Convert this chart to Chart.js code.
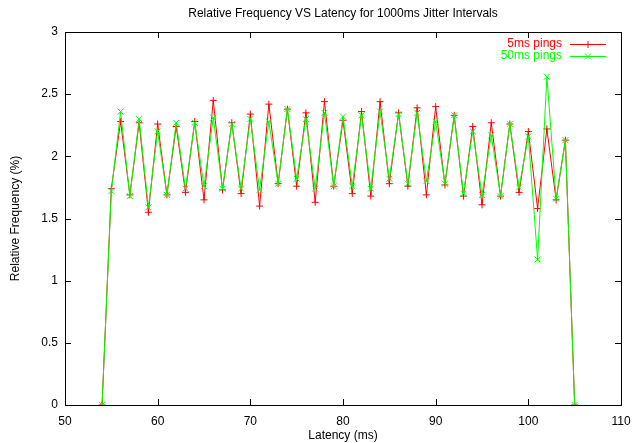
<!DOCTYPE html>
<html>
<head>
<meta charset="utf-8">
<script src="https://cdn.jsdelivr.net/npm/chart.js@4.4.1/dist/chart.umd.min.js"></script>
<style>
  html, body { margin: 0; padding: 0; background: #fff; }
  canvas { display: block; }
</style>
</head>
<body>
<canvas id="chart" width="633" height="443"></canvas>
<script>
// latency buckets (ms)
const latency = [54, 55, 56, 57, 58, 59, 60, 61, 62, 63, 64, 65, 66, 67, 68, 69, 70, 71, 72, 73,
    74, 75, 76, 77, 78, 79, 80, 81, 82, 83, 84, 85, 86, 87, 88, 89, 90, 91, 92, 93,
    94, 95, 96, 97, 98, 99, 100, 101, 102, 103, 104, 105];

const pings5 = [0, 1.74, 2.28, 1.69, 2.27, 1.55, 2.26, 1.69, 2.24, 1.71, 2.28, 1.65, 2.45, 1.73, 2.27, 1.70,
    2.34, 1.60, 2.42, 1.78, 2.38, 1.76, 2.35, 1.63, 2.44, 1.76, 2.29, 1.70, 2.36, 1.68,
    2.44, 1.78, 2.35, 1.76, 2.39, 1.69, 2.40, 1.77, 2.33, 1.68, 2.24, 1.61, 2.27, 1.68,
    2.26, 1.71, 2.20, 1.58, 2.22, 1.65, 2.13, 0];

const pings50 = [0, 1.72, 2.36, 1.68, 2.30, 1.59, 2.20, 1.69, 2.27, 1.74, 2.27, 1.76, 2.31, 1.74, 2.26, 1.74,
    2.30, 1.73, 2.28, 1.78, 2.38, 1.82, 2.30, 1.74, 2.35, 1.76, 2.32, 1.76, 2.33, 1.74,
    2.36, 1.82, 2.34, 1.78, 2.35, 1.80, 2.28, 1.78, 2.33, 1.70, 2.20, 1.69, 2.17, 1.68,
    2.26, 1.75, 2.16, 1.17, 2.64, 1.66, 2.13, 0];

const xTicks = [50, 60, 70, 80, 90, 100, 110];
const yTicks = [0, 0.5, 1, 1.5, 2, 2.5, 3];

const RED = '#ff0000';
const GREEN = '#00ff00';
const FONT = '"Liberation Sans", Arial, sans-serif';

function toPoints(values) {
    return latency.map((x, i) => ({ x: x, y: values[i] }));
}

// gnuplot style frame, inward ticks, title and key
const gnuplotFrame = {
    id: 'gnuplotFrame',
    afterDraw(chart) {
        const ctx = chart.ctx;
        const area = chart.chartArea;
        const xs = chart.scales.x;
        const ys = chart.scales.y;
        const tick = 6;

        ctx.save();
        ctx.strokeStyle = '#000';
        ctx.lineWidth = 1;
        ctx.strokeRect(Math.round(area.left) + 0.5, Math.round(area.top) + 0.5,
            Math.round(area.right - area.left), Math.round(area.bottom - area.top));

        ctx.beginPath();
        xTicks.forEach(v => {
            const px = Math.round(xs.getPixelForValue(v)) + 0.5;
            ctx.moveTo(px, area.bottom);
            ctx.lineTo(px, area.bottom - tick);
            ctx.moveTo(px, area.top);
            ctx.lineTo(px, area.top + tick);
        });
        yTicks.forEach(v => {
            const py = Math.round(ys.getPixelForValue(v)) + 0.5;
            ctx.moveTo(area.left, py);
            ctx.lineTo(area.left + tick, py);
            ctx.moveTo(area.right, py);
            ctx.lineTo(area.right - tick, py);
        });
        ctx.stroke();

        // title centred over the plot area
        ctx.fillStyle = '#000';
        ctx.font = '12px ' + FONT;
        ctx.textAlign = 'center';
        ctx.textBaseline = 'middle';
        ctx.fillText('Relative Frequency VS Latency for 1000ms Jitter Intervals',
            (area.left + area.right) / 2, 14);

        // key
        const key = [
            { label: '5ms pings', color: RED, style: 'cross', r: 3.5, y: 44 },
            { label: '50ms pings', color: GREEN, style: 'crossRot', r: 4.2, y: 56 }
        ];
        key.forEach(k => {
            ctx.fillStyle = k.color;
            ctx.textAlign = 'right';
            ctx.fillText(k.label, 562, k.y);
            ctx.strokeStyle = k.color;
            ctx.beginPath();
            ctx.moveTo(570, k.y + 0.5);
            ctx.lineTo(606, k.y + 0.5);
            ctx.stroke();
            Chart.helpers.drawPoint(ctx, {
                pointStyle: k.style, radius: k.r, borderWidth: 1, rotation: 0
            }, 588, k.y + 0.5);
        });
        ctx.restore();
    }
};

new Chart(document.getElementById('chart'), {
    type: 'line',
    data: {
        datasets: [
            {
                label: '5ms pings',
                data: toPoints(pings5),
                borderColor: RED,
                backgroundColor: RED,
                borderWidth: 1,
                pointStyle: 'cross',
                pointRadius: 3.5,
                pointBorderWidth: 1,
                tension: 0,
                order: 2
            },
            {
                label: '50ms pings',
                data: toPoints(pings50),
                borderColor: GREEN,
                backgroundColor: GREEN,
                borderWidth: 1,
                pointStyle: 'crossRot',
                pointRadius: 4.2,
                pointBorderWidth: 1,
                tension: 0,
                order: 1
            }
        ]
    },
    options: {
        responsive: false,
        animation: false,
        events: [],
        layout: { padding: { top: 32, right: 12, left: 0, bottom: 0 } },
        plugins: {
            legend: { display: false },
            title: { display: false },
            tooltip: { enabled: false }
        },
        scales: {
            x: {
                type: 'linear',
                min: 50,
                max: 110,
                afterFit: scale => {
                    scale.height = 38;
                    scale.paddingLeft = 0;
                    scale.paddingRight = 0;
                },
                afterBuildTicks: scale => { scale.ticks = xTicks.map(v => ({ value: v })); },
                grid: { display: false, drawTicks: false },
                border: { display: false },
                ticks: { color: '#000', font: { family: FONT, size: 12 }, padding: 9, maxRotation: 0 },
                title: {
                    display: true,
                    text: 'Latency (ms)',
                    color: '#000',
                    font: { family: FONT, size: 12 },
                    padding: { top: 0, bottom: 0 }
                }
            },
            y: {
                min: 0,
                max: 3,
                afterFit: scale => {
                    scale.width = 65;
                    scale.paddingTop = 0;
                    scale.paddingBottom = 0;
                },
                afterBuildTicks: scale => { scale.ticks = yTicks.map(v => ({ value: v })); },
                grid: { display: false, drawTicks: false },
                border: { display: false },
                ticks: {
                    color: '#000',
                    font: { family: FONT, size: 12 },
                    padding: 7,
                    callback: v => String(v)
                },
                title: {
                    display: true,
                    text: 'Relative Frequency (%)',
                    color: '#000',
                    font: { family: FONT, size: 12 },
                    padding: { top: 8, bottom: 0 }
                }
            }
        }
    },
    plugins: [gnuplotFrame]
});
</script>
</body>
</html>
